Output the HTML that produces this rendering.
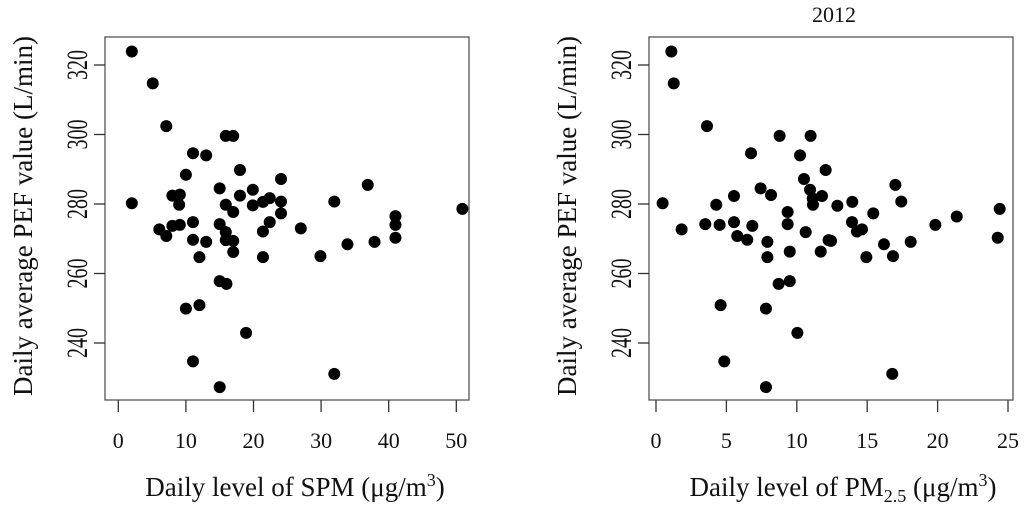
<!DOCTYPE html>
<html><head><meta charset="utf-8"><style>
html,body{margin:0;padding:0;background:#fff;}
svg{display:block;font-family:"Liberation Serif",serif;}
</style></head><body>
<svg id="chart" width="1024" height="506" viewBox="0 0 1024 506"></svg>
<script>
const spmX=[2.0,5.1,7.1,15.9,17.0,11.05,13.0,18.0,24.07,10.0,36.9,15.0,19.9,8.0,9.1,18.0,22.4,21.4,19.9,24.07,31.95,2.0,9.0,15.9,17.0,50.9,24.07,41.0,41.0,11.05,22.4,8.0,9.1,15.0,6.07,7.1,27.0,21.4,15.9,11.05,13.0,15.9,17.0,33.9,37.9,41.0,17.0,12.0,21.4,29.9,15.0,16.0,10.0,12.0,18.9,11.05,31.95,15.0];
const spmY=[323.9,314.7,302.4,299.6,299.6,294.6,294.0,289.8,287.2,288.4,285.5,284.5,284.1,282.4,282.7,282.4,281.7,280.6,279.6,280.7,280.7,280.2,279.8,279.8,277.7,278.6,277.3,276.5,274.0,274.8,274.8,273.7,274.0,274.2,272.7,270.8,273.0,272.1,271.9,269.7,269.1,269.6,269.4,268.4,269.1,270.3,266.2,264.7,264.7,265.0,257.8,257.0,249.9,250.9,242.9,234.7,231.1,227.3];
const pmX=[1.09,1.26,3.62,8.78,10.98,6.75,10.23,12.05,10.51,17.0,7.43,10.94,5.54,8.17,11.79,11.13,17.42,13.94,0.47,4.28,11.15,12.88,9.35,24.41,15.43,21.36,1.82,3.50,4.52,5.54,6.84,9.35,13.92,19.84,5.77,6.48,7.91,10.63,14.27,14.63,12.26,12.43,16.19,18.09,24.27,9.50,11.70,7.91,14.94,16.83,8.71,9.50,4.59,7.81,10.04,4.85,16.78,7.81];
const pmY=[323.9,314.7,302.4,299.6,299.6,294.6,294.0,289.8,287.2,285.5,284.5,284.1,282.3,282.6,282.3,281.6,280.7,280.6,280.2,279.8,279.8,279.5,277.7,278.6,277.3,276.4,272.7,274.2,274.0,274.8,273.7,274.2,274.8,274.0,270.8,269.7,269.1,271.9,272.1,272.7,269.6,269.4,268.4,269.1,270.3,266.3,266.3,264.7,264.7,265.0,257.0,257.8,250.9,249.9,242.9,234.7,231.1,227.3];
const yTicks=[240,260,280,300,320];
const spmTicks=[0,10,20,30,40,50];
const pmTicks=[0,5,10,15,20,25];

const NS="http://www.w3.org/2000/svg";
const svg=document.getElementById('chart');
function mk(tag,attrs,parent){const e=document.createElementNS(NS,tag);for(const k in attrs)e.setAttribute(k,attrs[k]);(parent||svg).appendChild(e);return e;}
const yScale=v=>204-(v-280)*3.475;

function panel(name,left,right,x0px,pxPerUnit,xs,ys,xt){
  const g=mk('g',{});
  
  
  const xScale=v=>x0px+v*pxPerUnit;
  const frame=mk('rect',{x:left,y:37,width:right-left,height:363,fill:'none',stroke:'#555','stroke-width':1.3},g);
  
  
  yTicks.forEach(t=>{
    const y=yScale(t);
    const l=mk('line',{x1:left-11,x2:left,y1:y,y2:y,stroke:'#333','stroke-width':1.3},g);
    
    
    const tx=mk('text',{x:0,y:0,'font-size':20,'text-anchor':'middle',transform:`translate(${left-18},${y}) rotate(-90) scale(1,1.5)`,fill:'#111'},g);
    tx.textContent=t;
    
    
  });
  xt.forEach(t=>{
    const x=xScale(t);
    const l=mk('line',{x1:x,x2:x,y1:400,y2:412,stroke:'#333','stroke-width':1.3},g);
    
    
    const tx=mk('text',{x:x,y:448,'font-size':22,'text-anchor':'middle',fill:'#111'},g);
    tx.textContent=t;
    
    
  });
  xs.forEach((v,i)=>{
    const c=mk('circle',{cx:xScale(v),cy:yScale(ys[i]),r:6,fill:'#000'},g);
    
    
  });
  const yt=mk('text',{x:0,y:0,'font-size':27,'text-anchor':'middle',transform:`translate(${left-73},216) rotate(-90)`,fill:'#111'},g);
  yt.textContent='Daily average PEF value (L/min)';
  
  
  return {g,xScale};
}
panel('spm',105,469,118.3,6.76,spmX,spmY,spmTicks);
panel('pm25',649,1013,656,14.08,pmX,pmY,pmTicks);

const t1=mk('text',{x:295,y:496,'font-size':27,'text-anchor':'middle',fill:'#111'});


t1.innerHTML='Daily level of SPM (μg/m<tspan dy="-10" font-size="18">3</tspan><tspan dy="10">)</tspan>';
const t2=mk('text',{x:843,y:496,'font-size':27,'text-anchor':'middle',fill:'#111'});


t2.innerHTML='Daily level of PM<tspan dy="6" font-size="18">2.5</tspan><tspan dy="-6"> (μg/m</tspan><tspan dy="-10" font-size="18">3</tspan><tspan dy="10">)</tspan>';
const yr=mk('text',{x:834,y:22,'font-size':22,'text-anchor':'middle',fill:'#111'});


yr.textContent='2012';
</script>
</body></html>
